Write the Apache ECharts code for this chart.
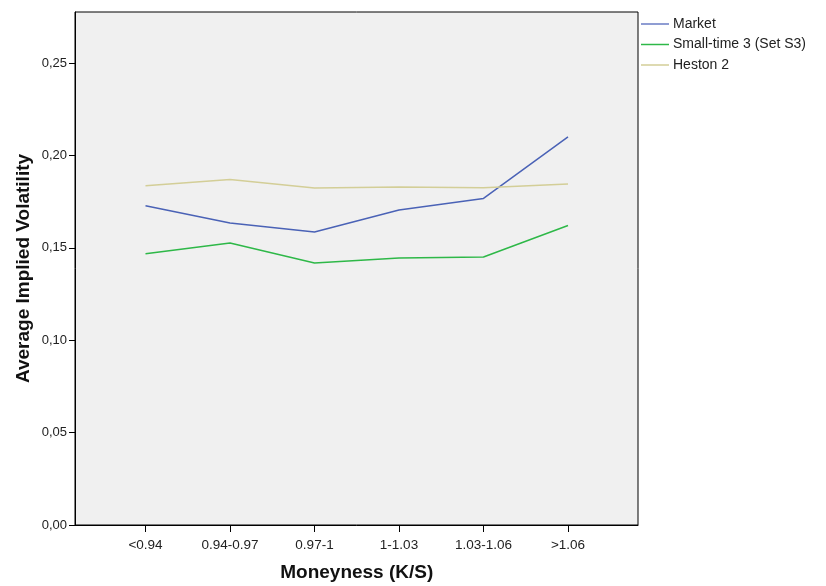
<!DOCTYPE html>
<html>
<head>
<meta charset="utf-8">
<script src="https://cdn.jsdelivr.net/npm/echarts@6/dist/echarts.min.js"></script>
<style>
  html, body { margin: 0; padding: 0; background: #ffffff; }
  #chart { width: 826px; height: 586px; }
</style>
</head>
<body>
<div id="chart"></div>
<script>
// Moneyness buckets along the horizontal axis
const categories = ['<0.94', '0.94-0.97', '0.97-1', '1-1.03', '1.03-1.06', '>1.06'];

// Average implied volatility per bucket
const market = [0.1728, 0.1634, 0.1585, 0.1705, 0.1767, 0.2100];
const smallTime3 = [0.1468, 0.1526, 0.1418, 0.1445, 0.1450, 0.1621];
const heston2 = [0.1836, 0.1869, 0.1824, 0.1829, 0.1825, 0.1845];

// Vertical axis ticks and range
const yTicks = [0, 0.05, 0.10, 0.15, 0.20, 0.25];
const yMax = 0.2776;

const FONT = 'Liberation Sans, Arial, sans-serif';
const fmt = v => v.toFixed(2).replace('.', ',');

const chart = echarts.init(document.getElementById('chart'), null, { renderer: 'canvas' });

chart.setOption({
  animation: false,
  backgroundColor: '#ffffff',
  textStyle: { fontFamily: FONT },
  legend: {
    orient: 'vertical',
    left: 641,
    top: 16.5,
    padding: 0,
    icon: 'rect',
    itemWidth: 28,
    itemHeight: 1.5,
    itemGap: 5.5,
    textStyle: { fontFamily: FONT, fontSize: 14, lineHeight: 15, color: '#222', padding: [0, 0, 0, -1] },
    data: ['Market', 'Small-time 3 (Set S3)', 'Heston 2']
  },
  grid: [
    {
      // plot frame with grey background and the value axis
      left: 75, top: 12, width: 563, height: 513,
      outerBoundsMode: 'none',
      containLabel: false,
      show: true,
      backgroundColor: '#f0f0f0',
      borderColor: '#000000',
      borderWidth: 1
    },
    {
      // inner band area where the categories live
      left: 103.25, top: 12, width: 507, height: 513,
      outerBoundsMode: 'none',
      containLabel: false,
      show: false
    }
  ],
  xAxis: [
    {
      gridIndex: 0,
      type: 'value',
      min: 0, max: 1,
      axisLine: { show: true, lineStyle: { color: '#000', width: 1 } },
      axisTick: { show: false },
      axisLabel: { show: false },
      splitLine: { show: false }
    },
    {
      gridIndex: 1,
      type: 'category',
      data: categories,
      boundaryGap: true,
      axisLine: { show: false },
      axisTick: { show: true, alignWithLabel: true, length: 7, lineStyle: { color: '#000', width: 1 } },
      axisLabel: { fontFamily: FONT, fontSize: 13.5, color: '#222', margin: 13 },
      splitLine: { show: false },
      name: 'Moneyness (K/S)',
      nameLocation: 'middle',
      nameGap: 38,
      nameMoveOverlap: false,
      nameTextStyle: { fontFamily: FONT, fontSize: 19, fontWeight: 'bold', color: '#111' }
    }
  ],
  yAxis: [
    {
      gridIndex: 0,
      type: 'value',
      min: 0,
      max: yMax,
      axisLine: { show: true, lineStyle: { color: '#000', width: 1 } },
      axisTick: { show: true, length: 6, customValues: yTicks, lineStyle: { color: '#000', width: 1 } },
      axisLabel: {
        customValues: yTicks,
        formatter: fmt,
        fontFamily: FONT, fontSize: 13, color: '#222', margin: 8
      },
      splitLine: { show: false },
      name: 'Average Implied Volatility',
      nameLocation: 'middle',
      nameGap: 42,
      nameMoveOverlap: false,
      nameTextStyle: { fontFamily: FONT, fontSize: 19, fontWeight: 'bold', color: '#111' }
    },
    {
      gridIndex: 1,
      type: 'value',
      min: 0,
      max: yMax,
      show: false,
      splitLine: { show: false }
    }
  ],
  series: [
    {
      name: 'Market',
      type: 'line',
      xAxisIndex: 1, yAxisIndex: 1,
      data: market,
      symbol: 'none',
      lineStyle: { color: '#4a62b6', width: 1.5 },
      itemStyle: { color: '#6a7cc4' }
    },
    {
      name: 'Small-time 3 (Set S3)',
      type: 'line',
      xAxisIndex: 1, yAxisIndex: 1,
      data: smallTime3,
      symbol: 'none',
      lineStyle: { color: '#2eb848', width: 1.5 },
      itemStyle: { color: '#2eb848' }
    },
    {
      name: 'Heston 2',
      type: 'line',
      xAxisIndex: 1, yAxisIndex: 1,
      data: heston2,
      symbol: 'none',
      lineStyle: { color: '#d3ce97', width: 1.5 },
      itemStyle: { color: '#d3ce97' }
    }
  ]
});
</script>
</body>
</html>
